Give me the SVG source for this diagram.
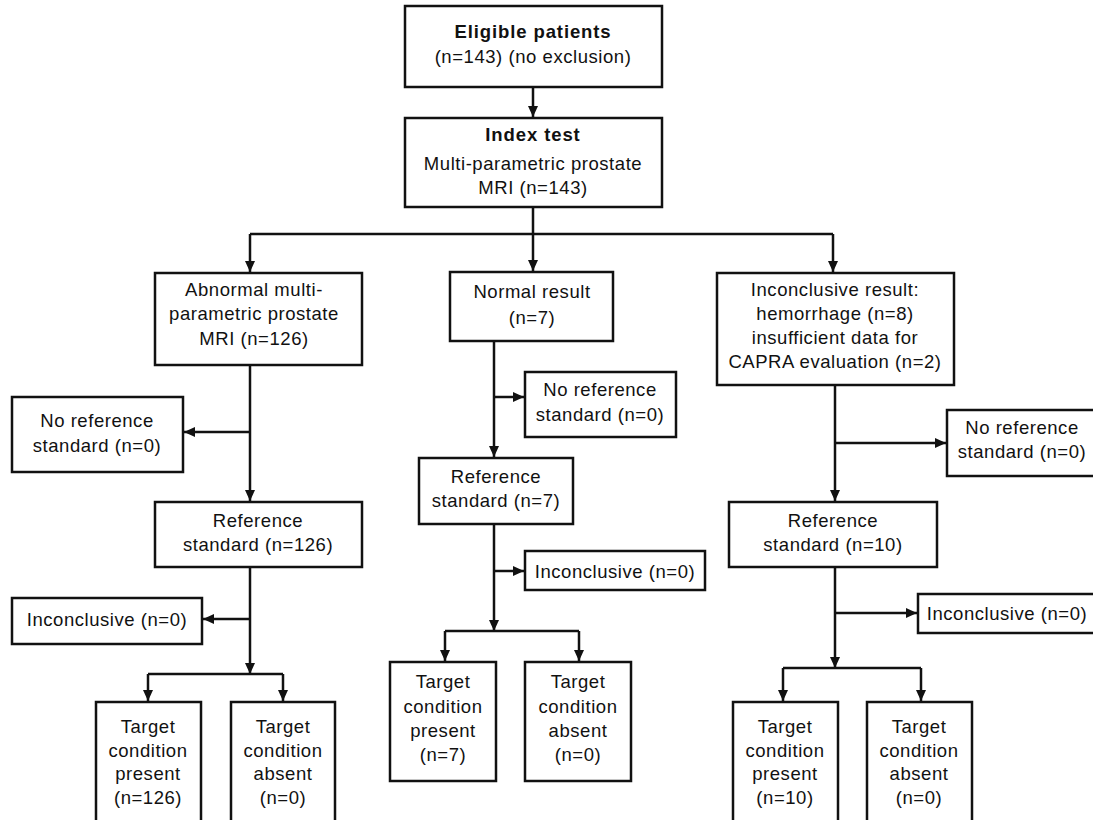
<svg xmlns="http://www.w3.org/2000/svg" width="1093" height="820" viewBox="0 0 1093 820">
<style>
.box{fill:#fff;stroke:#111;stroke-width:2.5}
.t{font-family:"Liberation Sans",Arial,sans-serif;font-size:18.5px;letter-spacing:0.55px;fill:#111;text-anchor:middle}
.b{font-weight:bold;letter-spacing:0.9px}
.c{fill:none;stroke:#111;stroke-width:2.5}
</style>
<defs>
<marker id="ah" markerUnits="userSpaceOnUse" markerWidth="12" markerHeight="12" viewBox="0 0 12 12" refX="11" refY="6" orient="auto">
<path d="M0,1 L11,6 L0,11 Z" fill="#111"/>
</marker>
</defs>
<rect width="1093" height="820" fill="#fff"/>
<g id="connectors">
<path class="c" d="M533,87 V117" marker-end="url(#ah)"/>
<path class="c" d="M533,207 V234 M250,234 H833"/>
<path class="c" d="M250,234 V272" marker-end="url(#ah)"/>
<path class="c" d="M533,234 V271" marker-end="url(#ah)"/>
<path class="c" d="M833,234 V272" marker-end="url(#ah)"/>
<path class="c" d="M250,365 V501" marker-end="url(#ah)"/>
<path class="c" d="M250,432 H184" marker-end="url(#ah)"/>
<path class="c" d="M250,567 V674" marker-end="url(#ah)"/>
<path class="c" d="M250,619 H203" marker-end="url(#ah)"/>
<path class="c" d="M148,674 H283"/>
<path class="c" d="M148,674 V701" marker-end="url(#ah)"/>
<path class="c" d="M283,674 V701" marker-end="url(#ah)"/>
<path class="c" d="M494,341 V457" marker-end="url(#ah)"/>
<path class="c" d="M494,397 H524" marker-end="url(#ah)"/>
<path class="c" d="M494,524 V631" marker-end="url(#ah)"/>
<path class="c" d="M494,571 H524" marker-end="url(#ah)"/>
<path class="c" d="M445,631 H579"/>
<path class="c" d="M445,631 V661" marker-end="url(#ah)"/>
<path class="c" d="M579,631 V661" marker-end="url(#ah)"/>
<path class="c" d="M835,385 V501" marker-end="url(#ah)"/>
<path class="c" d="M835,443 H946" marker-end="url(#ah)"/>
<path class="c" d="M835,567 V668" marker-end="url(#ah)"/>
<path class="c" d="M835,613 H917" marker-end="url(#ah)"/>
<path class="c" d="M783,668 H921"/>
<path class="c" d="M783,668 V701" marker-end="url(#ah)"/>
<path class="c" d="M921,668 V701" marker-end="url(#ah)"/>
</g>
<g id="eligible">
<rect class="box" x="405" y="6" width="257" height="81"/>
<text class="t b" x="533" y="38">Eligible patients</text>
<text class="t" x="533" y="63">(n=143) (no exclusion)</text>
</g>
<g id="index">
<rect class="box" x="405" y="118" width="257" height="89"/>
<text class="t b" x="533" y="141">Index test</text>
<text class="t" x="533" y="170">Multi-parametric prostate</text>
<text class="t" x="533" y="194">MRI (n=143)</text>
</g>
<g id="abnormal">
<rect class="box" x="155" y="273" width="207" height="92"/>
<text class="t" x="254" y="296">Abnormal multi-</text>
<text class="t" x="254" y="320">parametric prostate</text>
<text class="t" x="254" y="345">MRI (n=126)</text>
</g>
<g id="noref-left">
<rect class="box" x="12" y="397" width="171" height="75"/>
<text class="t" x="97" y="427">No reference</text>
<text class="t" x="97" y="452">standard (n=0)</text>
</g>
<g id="ref-left">
<rect class="box" x="155" y="502" width="207" height="65"/>
<text class="t" x="258" y="527">Reference</text>
<text class="t" x="258" y="551">standard (n=126)</text>
</g>
<g id="inc-left">
<rect class="box" x="12" y="598" width="190" height="46"/>
<text class="t" x="107" y="626">Inconclusive (n=0)</text>
</g>
<g id="tp-left">
<rect class="box" x="96" y="702" width="105" height="130"/>
<text class="t" x="148" y="733">Target</text>
<text class="t" x="148" y="757">condition</text>
<text class="t" x="148" y="780">present</text>
<text class="t" x="148" y="804">(n=126)</text>
</g>
<g id="ta-left">
<rect class="box" x="231" y="702" width="104" height="130"/>
<text class="t" x="283" y="733">Target</text>
<text class="t" x="283" y="757">condition</text>
<text class="t" x="283" y="780">absent</text>
<text class="t" x="283" y="804">(n=0)</text>
</g>
<g id="normal">
<rect class="box" x="450" y="272" width="163" height="69"/>
<text class="t" x="532" y="298">Normal result</text>
<text class="t" x="532" y="324">(n=7)</text>
</g>
<g id="noref-mid">
<rect class="box" x="525" y="372" width="151" height="65"/>
<text class="t" x="600" y="396">No reference</text>
<text class="t" x="600" y="421">standard (n=0)</text>
</g>
<g id="ref-mid">
<rect class="box" x="419" y="458" width="154" height="66"/>
<text class="t" x="496" y="483">Reference</text>
<text class="t" x="496" y="507">standard (n=7)</text>
</g>
<g id="inc-mid">
<rect class="box" x="525" y="551" width="180" height="39"/>
<text class="t" x="615" y="578">Inconclusive (n=0)</text>
</g>
<g id="tp-mid">
<rect class="box" x="390" y="662" width="106" height="119"/>
<text class="t" x="443" y="688">Target</text>
<text class="t" x="443" y="713">condition</text>
<text class="t" x="443" y="737">present</text>
<text class="t" x="443" y="761">(n=7)</text>
</g>
<g id="ta-mid">
<rect class="box" x="525" y="662" width="106" height="119"/>
<text class="t" x="578" y="688">Target</text>
<text class="t" x="578" y="713">condition</text>
<text class="t" x="578" y="737">absent</text>
<text class="t" x="578" y="761">(n=0)</text>
</g>
<g id="inconclusive">
<rect class="box" x="717" y="273" width="237" height="112"/>
<text class="t" x="835" y="296">Inconclusive result:</text>
<text class="t" x="835" y="320">hemorrhage (n=8)</text>
<text class="t" x="835" y="344">insufficient data for</text>
<text class="t" x="835" y="368">CAPRA evaluation (n=2)</text>
</g>
<g id="noref-right">
<rect class="box" x="947" y="410" width="160" height="66"/>
<text class="t" x="1022" y="434">No reference</text>
<text class="t" x="1022" y="458">standard (n=0)</text>
</g>
<g id="ref-right">
<rect class="box" x="729" y="502" width="208" height="65"/>
<text class="t" x="833" y="527">Reference</text>
<text class="t" x="833" y="551">standard (n=10)</text>
</g>
<g id="inc-right">
<rect class="box" x="918" y="594" width="190" height="39"/>
<text class="t" x="1007" y="620">Inconclusive (n=0)</text>
</g>
<g id="tp-right">
<rect class="box" x="733" y="702" width="105" height="130"/>
<text class="t" x="785" y="733">Target</text>
<text class="t" x="785" y="757">condition</text>
<text class="t" x="785" y="780">present</text>
<text class="t" x="785" y="804">(n=10)</text>
</g>
<g id="ta-right">
<rect class="box" x="867" y="702" width="105" height="130"/>
<text class="t" x="919" y="733">Target</text>
<text class="t" x="919" y="757">condition</text>
<text class="t" x="919" y="780">absent</text>
<text class="t" x="919" y="804">(n=0)</text>
</g>
</svg>
